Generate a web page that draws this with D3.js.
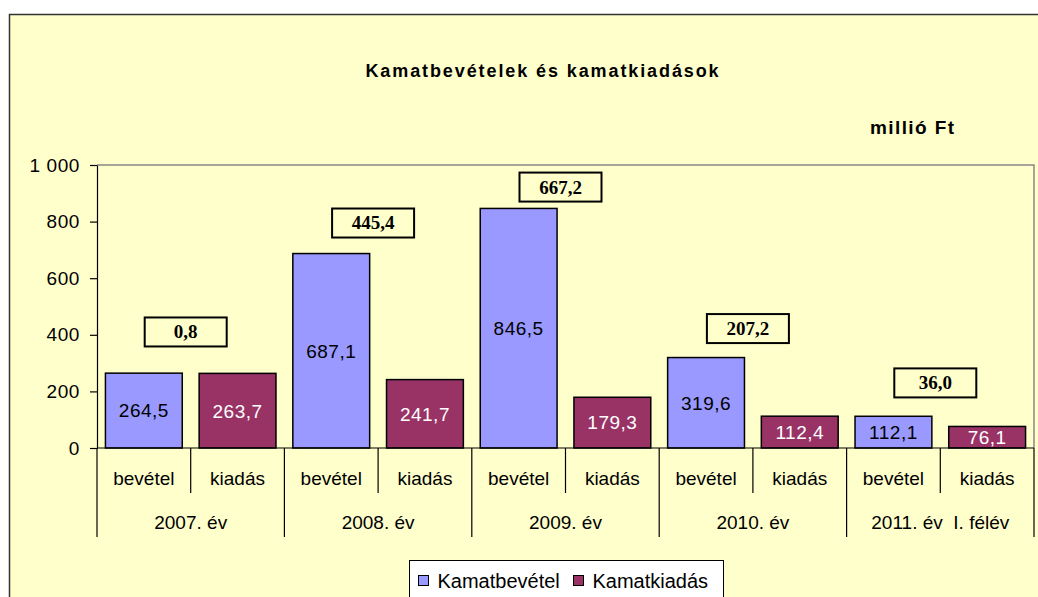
<!DOCTYPE html>
<html>
<head>
<meta charset="utf-8">
<script src="https://cdn.jsdelivr.net/npm/d3@7"></script>
<style>
    body { margin: 0; background: #fff; }
    text { font-family: Arial, "Liberation Sans", sans-serif; }
</style>
</head>
<body>
<div id="chart"></div>
<script>
// data (millió Ft)
const groups = ["2007. év", "2008. év", "2009. év", "2010. év", "2011. év  I. félév"];
const categories = ["bevétel", "kiadás"];
const bevetel = [264.5, 687.1, 846.5, 319.6, 112.1];
const kiadas = [263.7, 241.7, 179.3, 112.4, 76.1];
const difference = [0.8, 445.4, 667.2, 207.2, 36.0];
const yTicks = [0, 200, 400, 600, 800, 1000];
const seriesNames = ["Kamatbevétel", "Kamatkiadás"];
// where the hand-placed difference boxes sit, in axis units
const boxLevel = [410, 795, 922, 422, 230];

const colors = {bevétel: "#9999FF", kiadás: "#993366"};

const W = 1038, H = 597;
const margin = {top: 165, right: 4, bottom: 149, left: 97}
    , width = W - margin.left - margin.right
    , height = H - margin.top - margin.bottom;

const huLocale = d3.formatLocale({decimal: ",", thousands: "\u00a0", grouping: [3], currency: ["", " Ft"]});
const fmtTick = huLocale.format(",d");
const fmtVal = huLocale.format(".1f");

const svg0 = d3.select("#chart").append("svg")
    .attr("width", W)
    .attr("height", H);

// outer chart frame
svg0.append("rect")
    .attr("x", 9.5).attr("y", 14.5)
    .attr("width", W + 20).attr("height", H + 20)
    .attr("fill", "#FFFFCC")
    .attr("stroke", "#333")
    .attr("stroke-width", 1.5);

svg0.append("text")
    .attr("x", 543).attr("y", 77)
    .attr("text-anchor", "middle")
    .style("font-size", "18px")
    .style("font-weight", "bold")
    .style("letter-spacing", "1.9px")
    .text("Kamatbevételek és kamatkiadások");

svg0.append("text")
    .attr("x", 870).attr("y", 134)
    .style("font-size", "19px")
    .style("font-weight", "bold")
    .style("letter-spacing", "1.4px")
    .text("millió Ft");

const svg = svg0.append("g")
    .attr("transform", "translate(" + margin.left + "," + margin.top + ")");

const x0 = d3.scaleBand().domain(groups).range([0, width]);
const x1 = d3.scaleBand().domain(categories).range([0, x0.bandwidth()])
    .paddingInner(0.18).paddingOuter(0.09);
const y = d3.scaleLinear().domain([0, 1000]).range([height, 0]);

// plot area border (grey top and right)
svg.append("path")
    .attr("d", "M0,0H" + width + "V" + height)
    .attr("fill", "none")
    .attr("stroke", "#888")
    .attr("stroke-width", 1.5);

// y axis
const yAxis = svg.append("g")
    .attr("class", "y axis")
    .call(d3.axisLeft(y).tickValues(yTicks).tickFormat(fmtTick).tickSize(7).tickSizeOuter(0));
yAxis.select(".domain").attr("stroke", "#000").attr("stroke-width", 1.2);
yAxis.selectAll(".tick line").attr("stroke", "#000").attr("stroke-width", 1.2);
yAxis.selectAll(".tick text")
    .attr("x", -17)
    .style("font-size", "19px")
    .style("letter-spacing", "0.6px")
    .style("font-family", "Arial, 'Liberation Sans', sans-serif")
    .attr("fill", "#000");

const rows = groups.map((g, i) => ({
    group: g,
    values: [
        {cat: "bevétel", value: bevetel[i]},
        {cat: "kiadás", value: kiadas[i]}
    ],
    diff: difference[i],
    level: boxLevel[i]
}));

const gGroup = svg.selectAll(".group")
    .data(rows)
    .enter().append("g")
    .attr("class", "group")
    .attr("transform", d => "translate(" + x0(d.group) + ",0)");

gGroup.selectAll("rect.bar")
    .data(d => d.values)
    .enter().append("rect")
    .attr("class", "bar")
    .attr("x", d => x1(d.cat))
    .attr("width", x1.bandwidth())
    .attr("y", d => y(d.value))
    .attr("height", d => y(0) - y(d.value))
    .attr("fill", d => colors[d.cat])
    .attr("stroke", "#000")
    .attr("stroke-width", 1.5);

gGroup.selectAll("text.val")
    .data(d => d.values)
    .enter().append("text")
    .attr("class", "val")
    .attr("x", d => x1(d.cat) + x1.bandwidth() / 2)
    .attr("y", d => (y(d.value) + y(0)) / 2)
    .attr("dy", "0.36em")
    .attr("text-anchor", "middle")
    .style("font-size", "19px")
    .style("letter-spacing", "0.5px")
    .attr("fill", d => d.cat === "kiadás" ? "#fff" : "#000")
    .text(d => fmtVal(d.value));

// difference boxes
const boxW = 82, boxH = 29;
const diffG = gGroup.append("g")
    .attr("transform", d => "translate(" + (x0.bandwidth() / 2 - 5) + "," + y(d.level) + ")");
diffG.append("rect")
    .attr("x", -boxW / 2).attr("y", -boxH / 2)
    .attr("width", boxW).attr("height", boxH)
    .attr("fill", "#FFFFCC")
    .attr("stroke", "#000")
    .attr("stroke-width", 2);
diffG.append("text")
    .attr("text-anchor", "middle")
    .attr("dy", "0.34em")
    .style("font-family", "'Times New Roman', 'Liberation Serif', serif")
    .style("font-weight", "bold")
    .style("font-size", "19px")
    .text(d => fmtVal(d.diff));

// category axis: baseline, separators, labels
svg.append("line")
    .attr("x1", 0).attr("x2", width)
    .attr("y1", y(0)).attr("y2", y(0))
    .attr("stroke", "#000").attr("stroke-width", 1.2);

const sepCat = [];
groups.forEach(g => {
    sepCat.push({x: x0(g), long: true});
    sepCat.push({x: x0(g) + x0.step() / 2, long: false});
});
sepCat.push({x: width, long: true});

svg.selectAll(".sep")
    .data(sepCat)
    .enter().append("line")
    .attr("class", "sep")
    .attr("x1", d => d.x).attr("x2", d => d.x)
    .attr("y1", y(0))
    .attr("y2", d => y(0) + (d.long ? 89 : 45))
    .attr("stroke", "#000").attr("stroke-width", 1.2);

gGroup.selectAll("text.cat")
    .data(categories)
    .enter().append("text")
    .attr("class", "cat")
    .attr("x", d => x0.step() / 4 + (d === "kiadás" ? x0.step() / 2 : 0))
    .attr("y", y(0) + 37)
    .attr("text-anchor", "middle")
    .style("font-size", "19px")
    .text(d => d);

gGroup.append("text")
    .attr("x", x0.bandwidth() / 2)
    .attr("y", y(0) + 81)
    .attr("text-anchor", "middle")
    .style("font-size", "19px")
    .style("white-space", "pre")
    .attr("xml:space", "preserve")
    .text(d => d.group);

// legend
const legend = svg0.append("g").attr("transform", "translate(409.5,560.5)");
legend.append("rect")
    .attr("width", 314).attr("height", 60)
    .attr("fill", "#fff")
    .attr("stroke", "#000");
const legendItems = legend.selectAll(".li")
    .data(seriesNames)
    .enter().append("g")
    .attr("class", "li")
    .attr("transform", (d, i) => "translate(" + (i === 0 ? 9 : 164) + ",0)");
legendItems.append("rect")
    .attr("y", 15)
    .attr("width", 10).attr("height", 10)
    .attr("fill", (d, i) => colors[categories[i]])
    .attr("stroke", "#000");
legendItems.append("text")
    .attr("x", 19).attr("y", 27)
    .style("font-size", "20px")
    .text(d => d);
</script>
</body>
</html>
